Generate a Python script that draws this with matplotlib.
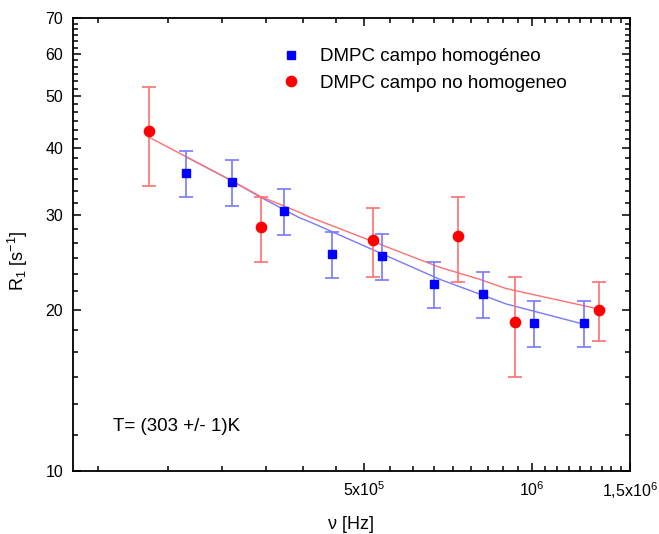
import numpy as np
import matplotlib
matplotlib.use("Agg")
import matplotlib.pyplot as plt
from matplotlib.ticker import FixedLocator, FixedFormatter, NullFormatter

plt.rcParams['font.family'] = ['Liberation Sans', 'DejaVu Sans']
plt.rcParams['mathtext.fontset'] = 'custom'
plt.rcParams['mathtext.rm'] = 'Liberation Sans'
plt.rcParams['mathtext.it'] = 'Liberation Sans:italic'
plt.rcParams['mathtext.default'] = 'regular'

# Homogeneous field: frequency [Hz], R1 [1/s], error
hom_freq = [2.39e5, 2.89e5, 3.59e5, 4.38e5, 5.38e5, 6.68e5, 8.18e5, 1.01e6, 1.24e6]
hom_r1 = [36.0, 34.6, 30.6, 25.4, 25.2, 22.3, 21.4, 18.9, 18.9]
hom_err = [3.6, 3.4, 3.0, 2.5, 2.5, 2.2, 2.1, 1.9, 1.9]

# Non-homogeneous field
nohom_freq = [2.05e5, 3.26e5, 5.19e5, 7.37e5, 9.32e5, 1.32e6]
nohom_r1 = [43.0, 28.5, 27.0, 27.5, 19.0, 20.0]
nohom_err = [9.0, 4.0, 4.0, 5.0, 4.0, 2.5]

# Fitted curves
hom_fit_freq = [2.39e5, 2.86e5, 3.26e5, 3.82e5, 3.98e5, 6.82e5, 8.04e5, 8.98e5, 1.236e6]
hom_fit_r1 = [38.6, 35.0, 32.4, 29.7, 29.2, 22.8, 21.4, 20.5, 18.8]
nohom_fit_freq = [2.05e5, 2.86e5, 3.26e5, 3.82e5, 3.98e5, 6.82e5, 8.04e5, 8.98e5, 1.317e6]
nohom_fit_r1 = [42.0, 35.0, 32.5, 30.4, 29.8, 24.0, 22.8, 21.9, 20.06]

x_major = [5e5, 1e6, 1.5e6]
x_major_labels = ['5x10$^{5}$', '10$^{6}$', '1,5x10$^{6}$']
y_major = [10, 20, 30, 40, 50, 60, 70]
y_major_labels = ['10', '20', '30', '40', '50', '60', '70']

labels = ['DMPC campo homogéneo', 'DMPC campo no homogeneo']

fig = plt.figure(figsize=(6.59, 5.34), dpi=100)
ax = fig.add_axes([73 / 659, 1 - 471 / 534, 557 / 659, 453 / 534])
ax.set_xscale('log')
ax.set_yscale('log')
ax.set_xlim(1.5e5, 1.5e6)
ax.set_ylim(10, 70)

blue = '#0000ff'
red = '#ff0000'
blue_light = '#7878ff'
red_light = '#ff7070'

ax.plot(hom_fit_freq, hom_fit_r1, color=blue_light, lw=1.0, zorder=2)
ax.plot(nohom_fit_freq, nohom_fit_r1, color=red_light, lw=1.0, zorder=2)

ax.errorbar(hom_freq, hom_r1, yerr=hom_err, fmt='none', ecolor=blue_light,
            elinewidth=1.2, capsize=5, capthick=1.2, zorder=3)
ax.errorbar(nohom_freq, nohom_r1, yerr=nohom_err, fmt='none', ecolor=red_light,
            elinewidth=1.2, capsize=5, capthick=1.2, zorder=3)

h1, = ax.plot(hom_freq, hom_r1, 's', color=blue, ms=6.3, mec=blue, zorder=4,
              label=labels[0])
h2, = ax.plot(nohom_freq, nohom_r1, 'o', color=red, ms=7.4, mec=red, zorder=4,
              label=labels[1])

# ticks: linear-step minors on the log axes
x_minor = [k * 5e5 / 9 for k in range(1, 28)]
x_minor = [v for v in x_minor if 1.5e5 < v < 1.5e6 and abs(v / 5e5 - round(v / 5e5)) > 1e-6]
y_minor = []
for d in range(10, 70, 10):
    y_minor += [d + k * 10 / 6 for k in range(1, 6)]

ax.xaxis.set_major_locator(FixedLocator(x_major))
ax.xaxis.set_major_formatter(FixedFormatter(x_major_labels))
ax.xaxis.set_minor_locator(FixedLocator(x_minor))
ax.xaxis.set_minor_formatter(NullFormatter())
ax.yaxis.set_major_locator(FixedLocator(y_major))
ax.yaxis.set_major_formatter(FixedFormatter(y_major_labels))
ax.yaxis.set_minor_locator(FixedLocator(y_minor))
ax.yaxis.set_minor_formatter(NullFormatter())

ax.tick_params(which='both', direction='in', top=True, right=True, width=1.1,
               labelsize=11.5, color='black')
ax.tick_params(which='major', length=6)
ax.tick_params(which='minor', length=3.3)
ax.tick_params(axis='x', which='major', pad=7)
ax.tick_params(axis='y', which='major', pad=7)
for s in ax.spines.values():
    s.set_linewidth(1.3)

ax.set_xlabel('ν [Hz]', fontsize=13)
ax.set_ylabel('R$_1$ [s$^{-1}$]', fontsize=13)
ax.xaxis.set_label_coords(0.5, -0.10)
ax.yaxis.set_label_coords(-0.078, 0.464)

ax.legend(handles=[h1, h2], loc='upper left', bbox_to_anchor=(0.374, 0.933),
          frameon=False, fontsize=13.5, handlelength=1.0, handletextpad=1.07,
          labelspacing=0.49, borderpad=0, borderaxespad=0)

ax.text(0.0724, 0.098, 'T= (303 +/- 1)K', transform=ax.transAxes,
        fontsize=13.5, va='center', ha='left')

fig.savefig('out.png', dpi=100)
